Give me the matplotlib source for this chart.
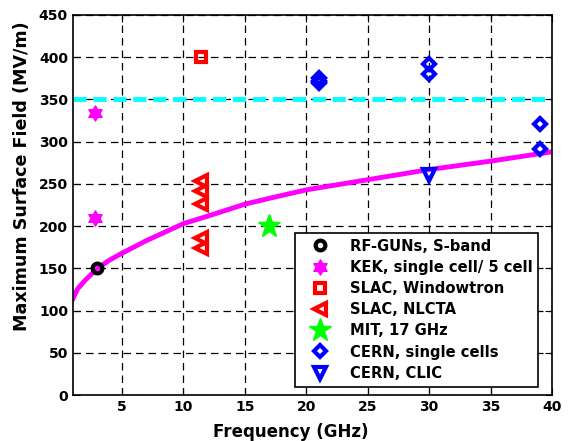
import numpy as np
import matplotlib.pyplot as plt
from matplotlib.path import Path

plt.rcParams['font.family'] = ['DejaVu Sans']
plt.rcParams['font.weight'] = 'bold'

# fit curve
fit_f = [1.0, 1.4, 2.0, 3.0, 4.0, 5.0, 7.0, 10.0, 12.0, 15.0, 17.0, 20.0, 25.0, 30.0, 35.0, 40.0]
fit_e = [114, 126, 136, 150, 160, 168, 183, 203, 212, 226, 233, 243, 255, 267, 277, 288]

# data sets
rf_f = [3.0]
rf_e = [150]
kek_f = [2.8, 2.8]
kek_e = [334, 210]
win_f = [11.4]
win_e = [400]
nlcta_f = [11.4, 11.4, 11.4, 11.4, 11.4]
nlcta_e = [253, 242, 226, 186, 174]
mit_f = [17.0]
mit_e = [200]
cern_f = [21.0, 21.0, 21.0, 30.0, 30.0, 39.0, 39.0]
cern_e = [376, 372, 369, 392, 380, 321, 291]
clic_f = [30.0]
clic_e = [261]
limit_e = 350

# hexagram marker (two triangles)
ang1 = np.deg2rad([90, 210, 330])
ang2 = np.deg2rad([270, 30, 150])
verts = [(np.cos(a), np.sin(a)) for a in ang1] + [(0, 0)] + \
        [(np.cos(a), np.sin(a)) for a in ang2] + [(0, 0)]
codes = [Path.MOVETO, Path.LINETO, Path.LINETO, Path.CLOSEPOLY] * 2
hexagram = Path(verts, codes)

fig = plt.figure(figsize=(5.69, 4.41), dpi=100)
ax = fig.add_axes([0.128, 0.104, 0.842, 0.862])

ax.axhline(limit_e, color='#00ffff', lw=3.5, ls=(0, (2.7, 1.4)), zorder=2)
ax.plot(fit_f, fit_e, color='#ff00ff', lw=3.5, zorder=2)

ax.plot(rf_f, rf_e, 'o', ms=7, mfc='none', mec='k', mew=3, label='RF-GUNs, S-band', zorder=3)
ax.plot(kek_f, kek_e, ls='none', marker=hexagram, ms=11, mfc='#ff00ff', mec='#ff00ff',
        label='KEK, single cell/ 5 cell', zorder=3)
ax.plot(win_f, win_e, 's', ms=6.5, mfc='none', mec='r', mew=3, label='SLAC, Windowtron', zorder=3)
ax.plot(nlcta_f, nlcta_e, '<', ms=8, mfc='none', mec='r', mew=3, label='SLAC, NLCTA', zorder=3)
ax.plot(mit_f, mit_e, '*', ms=17, mfc='#00ff00', mec='#00ff00', label='MIT, 17 GHz', zorder=3)
ax.plot(cern_f, cern_e, 'D', ms=6, mfc='none', mec='b', mew=3, label='CERN, single cells', zorder=3)
ax.plot(clic_f, clic_e, 'v', ms=8, mfc='none', mec='b', mew=3, label='CERN, CLIC', zorder=3)

ax.set_xlim(1, 40)
ax.set_ylim(0, 450)
ax.set_xticks(np.arange(5, 41, 5))
ax.set_yticks(np.arange(0, 451, 50))
ax.grid(True, color='k', ls=(0, (6, 4)), lw=0.9)
ax.tick_params(direction='in', top=True, right=True, labelsize=10, length=5)
for t in ax.get_xticklabels() + ax.get_yticklabels():
    t.set_fontweight('bold')
for s in ax.spines.values():
    s.set_linewidth(1.2)

ax.set_xlabel('Frequency (GHz)', fontsize=12, fontweight='bold')
ax.set_ylabel('Maximum Surface Field (MV/m)', fontsize=12.6, fontweight='bold')
ax.xaxis.set_label_coords(0.455, -0.072)
ax.yaxis.set_label_coords(-0.088, 0.576)

leg = ax.legend(loc='lower left', bbox_to_anchor=(0.449, 0.003), fontsize=10.6,
                frameon=True, fancybox=False, edgecolor='k', framealpha=1,
                handletextpad=0.8, borderpad=0.4, labelspacing=0.42, handlelength=2.5)
leg.get_frame().set_linewidth(1.2)
for t in leg.get_texts():
    t.set_fontweight('bold')

fig.savefig('out.png', dpi=100)
